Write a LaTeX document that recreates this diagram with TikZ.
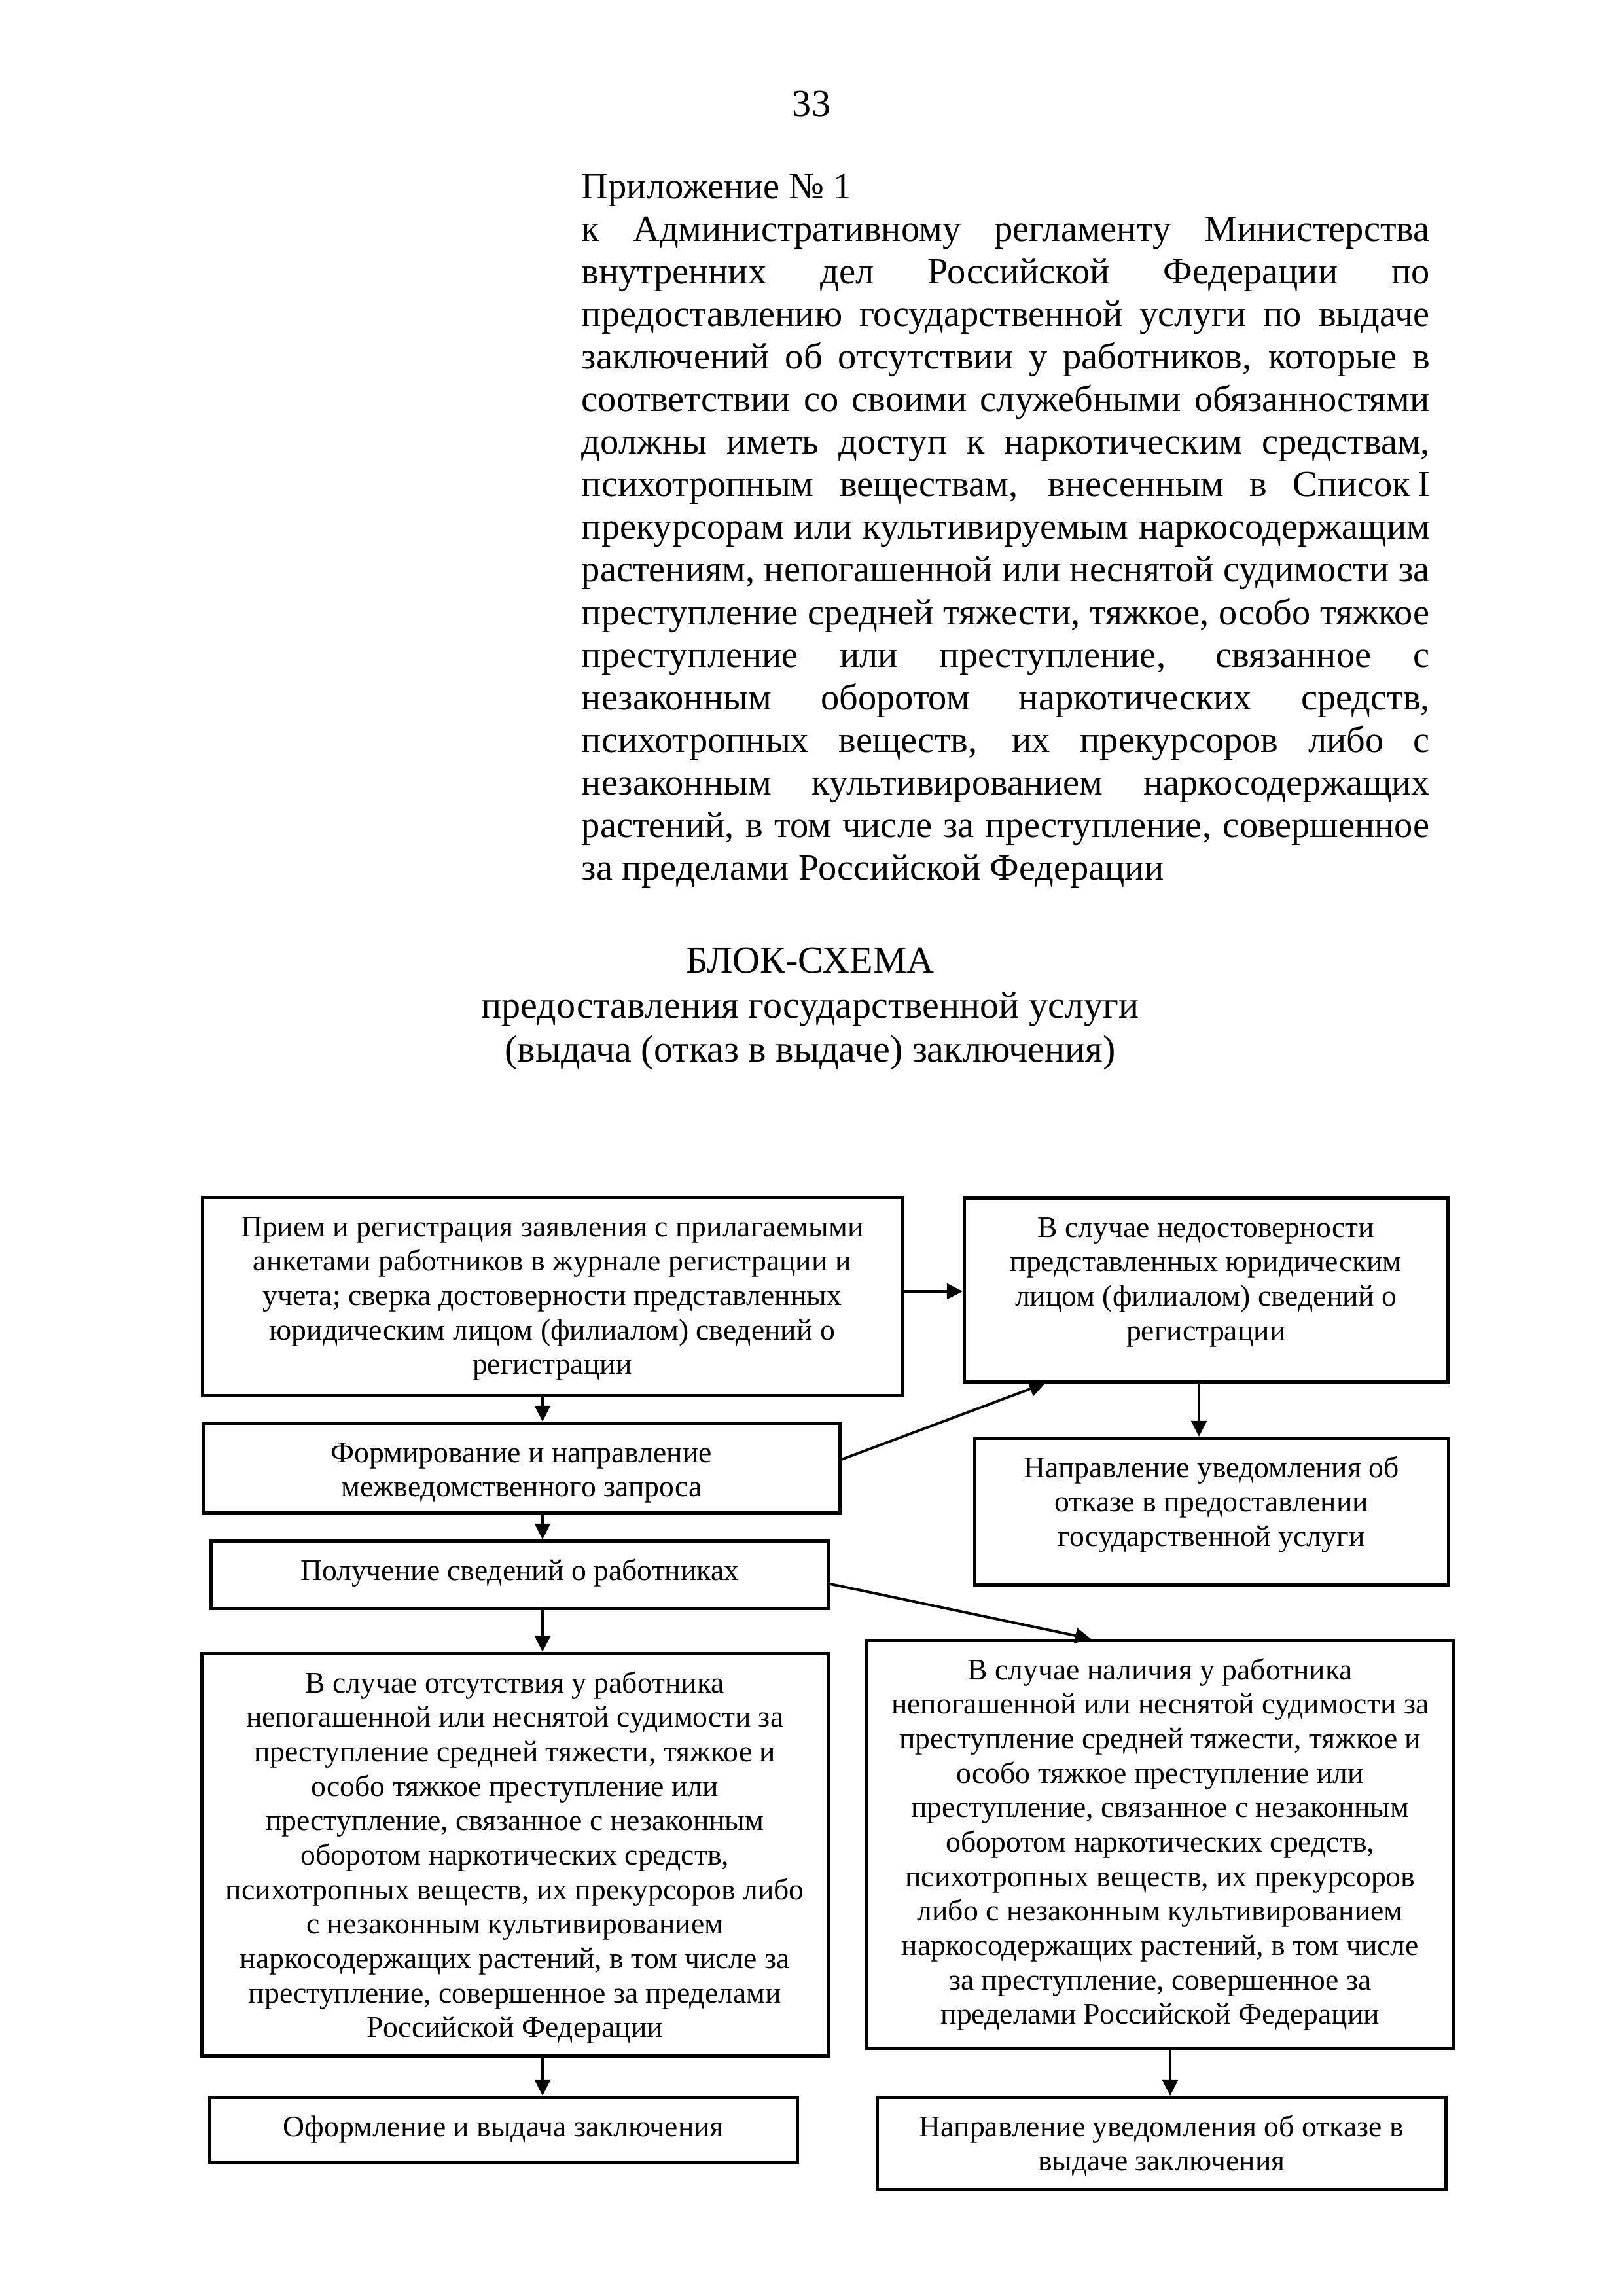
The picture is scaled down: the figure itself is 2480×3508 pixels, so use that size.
\documentclass[tikz,border=0pt]{standalone}
\usepackage{fontspec}
\setmainfont{Liberation Serif}
\usetikzlibrary{arrows.meta,calc}
\newlength\upx
\setlength\upx{0.2409pt}
\newcommand\jl[1]{\hbox to 1296\upx{\spaceskip=.25em plus 1fil minus .08em\relax #1}}
\newcommand\bt[3]{\parbox[c][#2\upx][t]{#1\upx}{\centering\fontsize{11pt}{12.69pt}\selectfont\vspace*{23\upx}\strut #3}}
\begin{document}
\begin{tikzpicture}[x=0.2409pt,y=-0.2409pt,
  box/.style={draw, line width=1.1pt, inner sep=0pt, anchor=north west},
  arr/.style={line width=0.95pt, -{Triangle[length=5.8pt,width=5.6pt]}},
  hd/.style={inner sep=0pt, font=\fontsize{14pt}{15.68pt}\selectfont}]
\useasboundingbox (0,0) rectangle (2480,3508);

% page number
\node[hd, anchor=base] (pg) at (1240,177) {33};

% header block
\node[hd, anchor=base west] (hdr) at (888,303) {\vtop{\fontsize{13.6pt}{15.68pt}\selectfont
  \baselineskip=65.1\upx \lineskiplimit=-100pt
  \hbox{Приложение № 1}
  \jl{к Административному регламенту Министерства}
  \jl{внутренних дел Российской Федерации по}
  \jl{предоставлению государственной услуги по выдаче}
  \jl{заключений об отсутствии у работников, которые в}
  \jl{соответствии со своими служебными обязанностями}
  \jl{должны иметь доступ к наркотическим средствам,}
  \jl{психотропным веществам, внесенным в Список\kern0.2em I}
  \jl{прекурсорам или культивируемым наркосодержащим}
  \jl{растениям, непогашенной или неснятой судимости за}
  \jl{преступление средней тяжести, тяжкое, особо тяжкое}
  \jl{преступление или преступление, связанное с}
  \jl{незаконным оборотом наркотических средств,}
  \jl{психотропных веществ, их прекурсоров либо с}
  \jl{незаконным культивированием наркосодержащих}
  \jl{растений, в том числе за преступление, совершенное}
  \hbox{за пределами Российской Федерации}}};

% title
\node[hd, anchor=base] (t1) at (1238,1486) {БЛОК-СХЕМА};
\node[hd, anchor=base] (t2) at (1238,1555) {предоставления государственной услуги};
\node[hd, anchor=base] (t3) at (1238,1622) {(выдача (отказ в выдаче) заключения)};

% boxes
\node[box] (A) at (307,1827) {\bt{1069}{303}{Прием и регистрация заявления с прилагаемыми\\анкетами работников в журнале регистрации и\\учета; сверка достоверности представленных\\юридическим лицом (филиалом) сведений о\\регистрации}};
\node[box] (H) at (1471,1828) {\bt{739}{281}{В случае недостоверности\\представленных юридическим\\лицом (филиалом) сведений о\\регистрации}};
\node[box] (B) at (308,2172) {\bt{973}{137}{Формирование и направление\\межведомственного запроса}};
\node[box] (I) at (1487,2195) {\bt{724}{224}{Направление уведомления об\\отказе в предоставлении\\государственной услуги}};
\node[box] (C) at (320,2352) {\bt{944}{103}{Получение сведений о работниках}};
\node[box] (D) at (306,2524) {\bt{957}{615}{В случае отсутствия у работника\\непогашенной или неснятой судимости за\\преступление средней тяжести, тяжкое и\\особо тяжкое преступление или\\преступление, связанное с незаконным\\оборотом наркотических средств,\\психотропных веществ, их прекурсоров либо\\с незаконным культивированием\\наркосодержащих растений, в том числе за\\преступление, совершенное за пределами\\Российской Федерации}};
\node[box] (E) at (1322,2504) {\bt{897}{623}{В случае наличия у работника\\непогашенной или неснятой судимости за\\преступление средней тяжести, тяжкое и\\особо тяжкое преступление или\\преступление, связанное с незаконным\\оборотом наркотических средств,\\психотропных веществ, их прекурсоров\\либо с незаконным культивированием\\наркосодержащих растений, в том числе\\за преступление, совершенное за\\пределами Российской Федерации}};
\node[box] (F) at (318,3202) {\bt{898}{99}{Оформление и выдача заключения}};
\node[box] (G) at (1338,3202) {\bt{869}{141}{Направление уведомления об отказе в\\выдаче заключения}};

% helper coordinates
\coordinate (xL) at (829,0);
\coordinate (xR) at (1788,0);
\coordinate (xH) at (1832,0);
\coordinate (xBH) at (1597,0);
\coordinate (xCE) at (1667,0);
\coordinate (yAH) at (0,1973);
\coordinate (yB) at (0,2230);
\coordinate (yC) at (0,2420);

% connectors
\draw[arr] (A.south -| xL) -- (B.north -| xL);
\draw[arr] (B.south -| xL) -- (C.north -| xL);
\draw[arr] (C.south -| xL) -- (D.north -| xL);
\draw[arr] (D.south -| xL) -- (F.north -| xL);
\draw[arr] (E.south -| xR) -- (G.north -| xR);
\draw[arr] (H.south -| xH) -- (I.north -| xH);
\draw[arr] (A.east |- yAH) -- (H.west |- yAH);
\draw[arr] (B.east |- yB) -- (H.south -| xBH);
\draw[arr] (C.east |- yC) -- (E.north -| xCE);
\end{tikzpicture}
\end{document}
